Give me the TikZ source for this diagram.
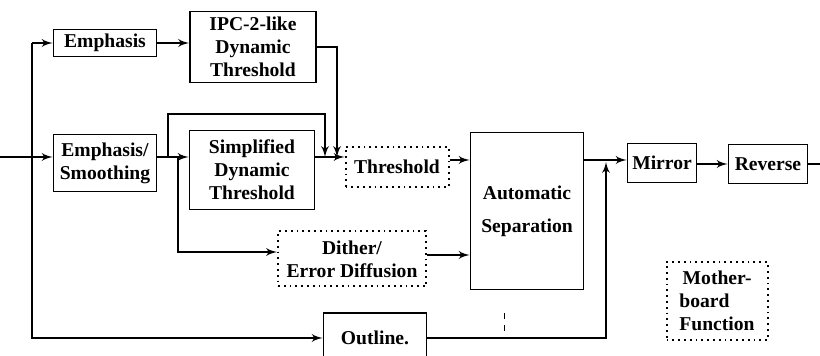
\documentclass[tikz,border=0pt]{standalone}
\usepackage{fontspec}
\setmainfont{Liberation Serif}
\usetikzlibrary{calc, arrows}
\tikzstyle{block}=[draw, line width=0.9pt, align=center, inner sep=0pt, font=\bfseries\fontsize{9.8}{11.5}\selectfont]
\tikzstyle{soft}=[block, dotted, line width=1pt]
\begin{document}
\begin{tikzpicture}[x=0.5pt,y=-0.5pt,>=latex',line width=0.9pt]
      \useasboundingbox (0,0) rectangle (820,356);
      % main blocks
      \node [block, minimum width=51.5pt, minimum height=13.5pt] (emph) at (105,43) {Emphasis};
      \node [block, minimum width=63pt, minimum height=35.5pt] (ipc) at (253,47) {IPC-2-like\\Dynamic\\Threshold};
      \node [block, minimum width=51.5pt, minimum height=28.5pt] (smooth) at (105,163) {Emphasis/\\Smoothing};
      \node [block, minimum width=62.5pt, minimum height=39.5pt] (simp) at (252,170) {Simplified\\Dynamic\\Threshold};
      \node [soft, minimum width=51.5pt, minimum height=20pt] (thr) at (397,167) {Threshold};
      \node [block, minimum width=56.5pt, minimum height=78.5pt] (sep) at (527,211) {Automatic\\[5pt]Separation};
      \node [soft, minimum width=74pt, minimum height=27.5pt] (dither) at (352,259) {Dither/\\Error Diffusion};
      \node [block, minimum width=51.5pt, minimum height=25pt] (outline) at (375,338) {Outline.};
      \node [block, minimum width=34.5pt, minimum height=19.5pt] (mirror) at (662,163) {Mirror};
      \node [block, minimum width=39.5pt, minimum height=19.5pt] (rev) at (768,164) {Reverse};
      \node [soft, minimum width=50.5pt, minimum height=39pt, align=left] (mother) at (717,301) {\,Mother-\\board\\Function};
      % bends and free ends
      \coordinate (in) at (0,157);
      \coordinate (bus) at (32,0);
      \coordinate (up) at (168,114);
      \coordinate (down) at (178,252);
      \coordinate (fb) at (325,114);
      \coordinate (ipcdrop) at (337,157);
      \coordinate (main) at (0,160);
      \coordinate (join) at (606,160);
      \coordinate (out) at (820,164);
      % input and bus
      \draw[->] (in) -- (in -| smooth.west);
      \draw[->] (emph.west -| bus) -- (emph.west);
      \draw[->] (emph.west -| bus) -- (outline.west -| bus) -- (outline.west);
      \draw[->] (emph.east) -- (emph.east -| ipc.west);
      % smoothing branches
      \draw[->] (in -| smooth.east) -- (in -| simp.west);
      \draw[->] (in -| up) -- (up) -- (fb) -- (fb |- in);
      \draw[->] (in -| down) -- (down) -- (down -| dither.west);
      \draw[->] (ipc.east) -- (ipc.east -| ipcdrop) -- (ipcdrop);
      \draw[->] (in -| simp.east) -- (in -| thr.west);
      % into separation
      \draw[->] (main -| thr.east) -- (main -| sep.west);
      \draw[->] (dither.east) ++(0,-4) -- ($(dither.east -| sep.west)+(0,-4)$);
      \draw[->] (main -| sep.east) -- (main -| mirror.west);
      \draw[->] (outline.east) -- (outline.east -| join) -- ($(join)+(0,2)$);
      \draw[->] (rev.west -| mirror.east) -- (rev.west);
      \draw (rev.east) -- (out);
      \draw[thin, dashed] (504,313) -- (504,332);
\end{tikzpicture}
\end{document}
